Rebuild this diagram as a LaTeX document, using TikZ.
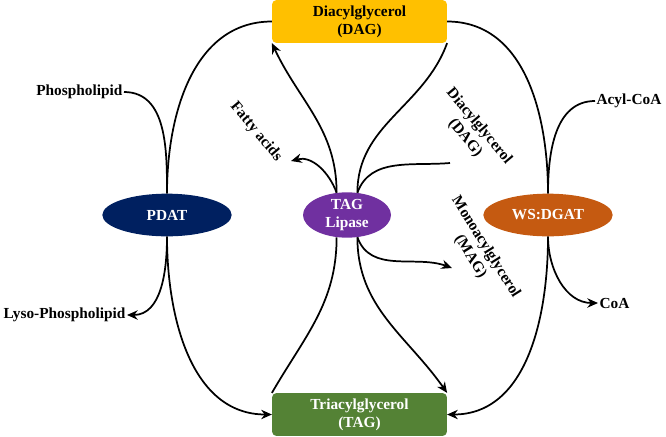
\documentclass[tikz,border=0pt]{standalone}
\usepackage{fontspec}
\setmainfont{Liberation Serif}
\usetikzlibrary{arrows.meta, shapes.geometric}
\definecolor{dagc}{HTML}{FFC000}
\definecolor{tagc}{HTML}{548235}
\definecolor{pdatc}{HTML}{002060}
\definecolor{lipc}{HTML}{7030A0}
\definecolor{wsc}{HTML}{C55A11}
\tikzset{
  every node/.style={font=\fontsize{11.5}{13.5}\selectfont\bfseries},
  box/.style={rectangle, rounded corners=3pt, minimum width=131pt, minimum height=32pt, align=center},
  enz/.style={ellipse, text=white, align=center, inner sep=0pt},
  lbl/.style={align=center, inner sep=1pt},
  flow/.style={line width=1.3pt},
  react/.style={flow, -{Stealth[length=8pt,width=7pt]}}
}
\begin{document}
\begin{tikzpicture}[x=0.75pt, y=-0.75pt]
  \useasboundingbox (0,0) rectangle (666,436);

  % substrates and products
  \node[box, fill=dagc] (dag) at (359.5,21.5) {Diacylglycerol\\(DAG)};
  \node[box, fill=tagc, text=white] (tag) at (359.5,414.5) {Triacylglycerol\\(TAG)};

  % enzymes
  \node[enz, fill=pdatc, minimum width=97pt, minimum height=32pt] (pdat) at (167,215) {PDAT};
  \node[enz, fill=lipc, minimum width=66pt, minimum height=34pt] (lip) at (347,215) {TAG\\Lipase};
  \node[enz, fill=wsc, minimum width=97pt, minimum height=32pt] (ws) at (548,215) {WS:DGAT};

  % side labels
  \node[lbl, anchor=east] (pl) at (124,92) {Phospholipid};
  \node[lbl, anchor=east] (lpl) at (127,315) {Lyso-Phospholipid};
  \node[lbl, anchor=west] (acoa) at (595,101) {Acyl-CoA};
  \node[lbl, anchor=west] (coa) at (598,303) {CoA};
  \node[lbl, rotate=-50] (fa) at (256,132) {Fatty acids};
  \node[lbl, rotate=-50] (dagl) at (472,132) {Diacylglycerol\\(DAG)};
  \node[lbl, rotate=-58] (magl) at (478,252) {Monoacylglycerol\\(MAG)};
  \coordinate (faend) at (291,161);
  \coordinate (dagend) at (450,163);
  \coordinate (magend) at (452,268);

  % PDAT
  \draw[flow] (dag.west) to[out=180, in=90] (pdat.north);
  \draw[react] (pdat.south) to[out=-90, in=180] (tag.west);
  \draw[flow] (pl.east) to[out=0, in=90] (pdat.north);
  \draw[react] (pdat.south) to[out=-90, in=0] (lpl.east);

  % TAG lipase
  \draw[flow] (tag.north west) to[out=60, in=-90] (lip.245);
  \draw[react] (lip.115) to[out=90, in=-65] (dag.south west);
  \draw[react] (lip.115) to[out=110, in=15] (faend);
  \draw[flow] (lip.65) to[out=70, in=185] (dagend);
  \draw[react] (lip.295) to[out=-70, in=160] (magend);

  % WS:DGAT
  \draw[flow] (dag.south east) to[out=-110, in=90] (lip.65);
  \draw[react] (lip.295) to[out=-90, in=125] (tag.north east);
  \draw[flow] (dag.east) to[out=0, in=90] (ws.north);
  \draw[react] (ws.south) to[out=-90, in=0] (tag.east);
  \draw[flow] (acoa.west) to[out=180, in=90] (ws.north);
  \draw[react] (ws.south) to[out=-90, in=180] (coa.west);
\end{tikzpicture}
\end{document}
